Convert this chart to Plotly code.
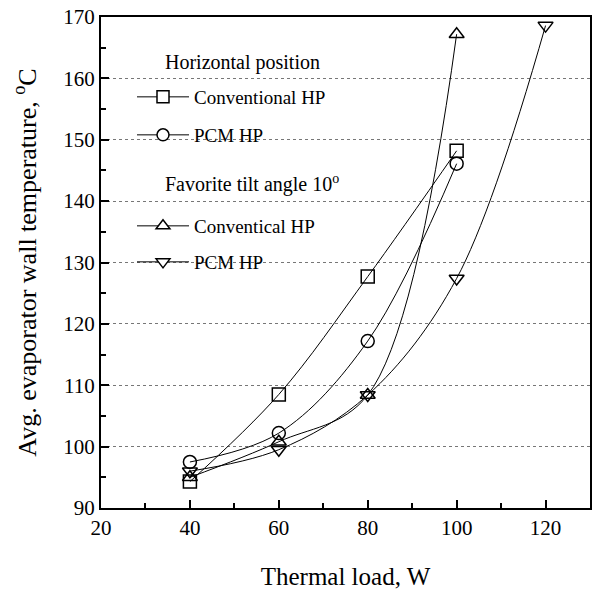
import plotly.graph_objects as go

# ---- data ----
load_w = [40, 60, 80, 100]
load_w_tilt_pcm = [40, 60, 80, 100, 120]
horiz_conv = [94.3, 108.5, 127.7, 148.2]
horiz_pcm = [97.5, 102.2, 117.2, 146.1]
tilt_conv = [95.0, 100.8, 108.4, 167.2]
tilt_pcm = [96.0, 99.5, 108.4, 127.4, 168.6]

series_names = ["Conventional HP", "PCM HP", "Conventical HP", "PCM HP"]
header_texts = ["Horizontal position", "Favorite tilt angle 10<sup>o</sup>"]
x_ticks = [20, 40, 60, 80, 100, 120]
y_ticks = [90, 100, 110, 120, 130, 140, 150, 160, 170]

FONT = "Liberation Serif"
W, H = 593, 595
PL, PR, PT, PB = 101, 590, 17, 508  # plot area in px


def px_x(p):
    return (p - PL) / (PR - PL)


def px_y(p):
    return (PB - p) / (PB - PT)


fig = go.Figure()

series = [
    (load_w, horiz_conv, "square"),
    (load_w, horiz_pcm, "circle"),
    (load_w, tilt_conv, "triangle-up"),
    (load_w_tilt_pcm, tilt_pcm, "triangle-down"),
]

for xs, ys, sym in series:
    fig.add_trace(go.Scatter(
        x=xs, y=ys, mode="lines+markers", showlegend=False,
        line=dict(color="black", width=1, shape="spline", smoothing=1.0),
        marker=dict(symbol=sym + "-open", size=13, color="black",
                    line=dict(color="black", width=1.5)),
    ))

# legend-only entries (one legend per row so spacing can match)
legend_ids = ["legend", "legend2", "legend3", "legend4"]
legend_rows_px = [97, 135, 226, 262]
for (xs, ys, sym), name, lid in zip(series, series_names, legend_ids):
    fig.add_trace(go.Scatter(
        x=[None], y=[None], mode="lines+markers", name=name, legend=lid,
        line=dict(color="black", width=1),
        marker=dict(symbol=sym, size=12, color="white",
                    line=dict(color="black", width=1.5)),
    ))

legend_common = dict(
    xref="paper", yref="paper", xanchor="left", yanchor="middle",
    bgcolor="rgba(0,0,0,0)", borderwidth=0,
    font=dict(family=FONT, size=19, color="black"), itemwidth=52,
)
layout_legends = {}
for lid, py in zip(legend_ids, legend_rows_px):
    layout_legends[lid] = dict(x=px_x(132), y=px_y(py), **legend_common)

fig.update_layout(
    width=W, height=H,
    margin=dict(l=PL, r=W - PR, t=PT, b=H - PB, autoexpand=False),
    paper_bgcolor="white", plot_bgcolor="white",
    font=dict(family=FONT, color="black"),
    **layout_legends,
)

for txt, py in zip(header_texts, [62, 183]):
    fig.add_annotation(
        text=txt, xref="paper", yref="paper",
        x=px_x(163), y=px_y(py),
        xanchor="left", yanchor="middle", showarrow=False,
        font=dict(family=FONT, size=20, color="black"),
    )

fig.update_xaxes(
    range=[20, 130], tickvals=x_ticks, ticks="inside", ticklen=8, tickwidth=1.5,
    tickcolor="black", showline=True, linewidth=2, linecolor="black", mirror=True,
    showgrid=False, zeroline=False,
    minor=dict(ticks="inside", dtick=10, ticklen=5, tickwidth=1.5, tickcolor="black", showgrid=False),
    tickfont=dict(family=FONT, size=21, color="black"),
    title=dict(text="Thermal load, W", font=dict(family=FONT, size=25, color="black"), standoff=28),
)
fig.update_yaxes(
    range=[90, 170], tickvals=y_ticks, ticks="inside", ticklen=8, tickwidth=1.5,
    tickcolor="black", showline=True, linewidth=2, linecolor="black", mirror=True,
    showgrid=True, gridcolor="#777", griddash="dot", gridwidth=1, zeroline=False,
    minor=dict(ticks="inside", dtick=5, ticklen=5, tickwidth=1.5, tickcolor="black", showgrid=False),
    tickfont=dict(family=FONT, size=21, color="black"),
    title=dict(text="Avg. evaporator wall temperature, <sup>o</sup>C",
               font=dict(family=FONT, size=26, color="black"), standoff=19),
)

fig.write_html("out.html", config={"displayModeBar": False},
               post_script="document.body.style.margin='0';")
